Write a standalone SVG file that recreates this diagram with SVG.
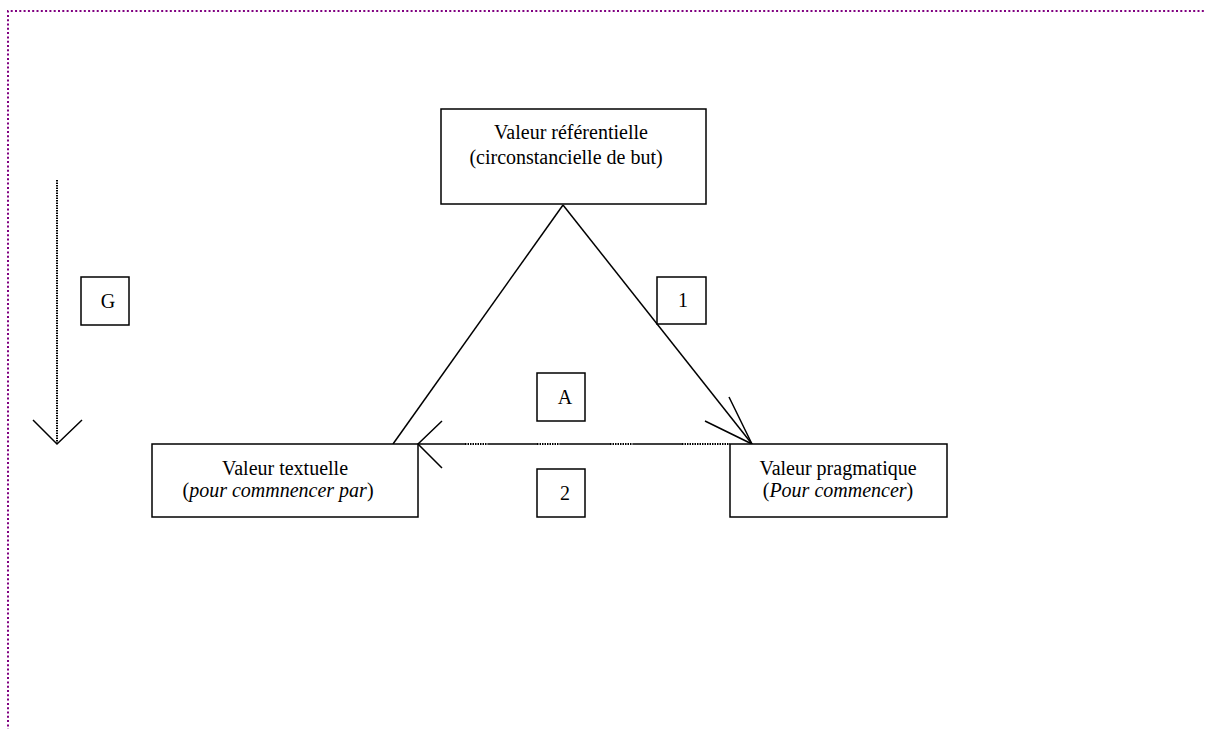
<svg xmlns="http://www.w3.org/2000/svg" width="1206" height="729" viewBox="0 0 1206 729">
<style>
.box{fill:#fff;stroke:#000;stroke-width:1.5}
.ln{fill:none;stroke:#000;stroke-width:1.5}
.dot{fill:none;stroke:#000;stroke-width:2;stroke-dasharray:1.5 1}
.t{font-family:"Liberation Serif","Times New Roman",serif;font-size:20px;fill:#000;text-anchor:middle}
.i{font-style:italic}
</style>
<rect width="1206" height="729" fill="#fff"/>
<path d="M8 735 V11 H1210" fill="none" stroke="#800080" stroke-width="2" stroke-dasharray="2 2.3"/>
<g id="connectors">
<line class="ln" x1="563" y1="205" x2="393" y2="444"/>
<line class="ln" x1="563" y1="205" x2="752" y2="444"/>
<path class="ln" d="M729 397 L752 444 L705 421"/>
<path class="ln" d="M418 444 H465 M488 444 H537 M560 444 H610 M633 444 H682"/>
<path class="dot" d="M465 444 H488 M537 444 H560 M610 444 H633 M682 444 H730"/>
<path class="ln" d="M442 421 L418 444 L442 468"/>
<line class="dot" x1="57" y1="180" x2="57" y2="444"/>
<path class="ln" d="M33 420 L57 444 L82 420"/>
</g>
<g id="n-ref">
<rect class="box" x="441" y="109" width="265" height="95"/>
<text class="t" x="571" y="139">Valeur référentielle</text>
<text class="t" x="566" y="164">(circonstancielle de but)</text>
</g>
<g id="n-text">
<rect class="box" x="152" y="444" width="266" height="73"/>
<text class="t" x="285" y="475">Valeur textuelle</text>
<text class="t" x="278" y="497">(<tspan class="i">pour commnencer par</tspan>)</text>
</g>
<g id="n-prag">
<rect class="box" x="730" y="444" width="217" height="73"/>
<text class="t" x="838" y="475">Valeur pragmatique</text>
<text class="t" x="838" y="497">(<tspan class="i">Pour commencer</tspan>)</text>
</g>
<g id="n-G">
<rect class="box" x="81" y="277" width="48" height="48"/>
<text class="t" x="108" y="308">G</text>
</g>
<g id="n-1">
<rect class="box" x="657" y="277" width="49" height="47"/>
<text class="t" x="683" y="307">1</text>
</g>
<g id="n-A">
<rect class="box" x="537" y="373" width="48" height="48"/>
<text class="t" x="565" y="404">A</text>
</g>
<g id="n-2">
<rect class="box" x="537" y="469" width="48" height="48"/>
<text class="t" x="565" y="500">2</text>
</g>
</svg>
